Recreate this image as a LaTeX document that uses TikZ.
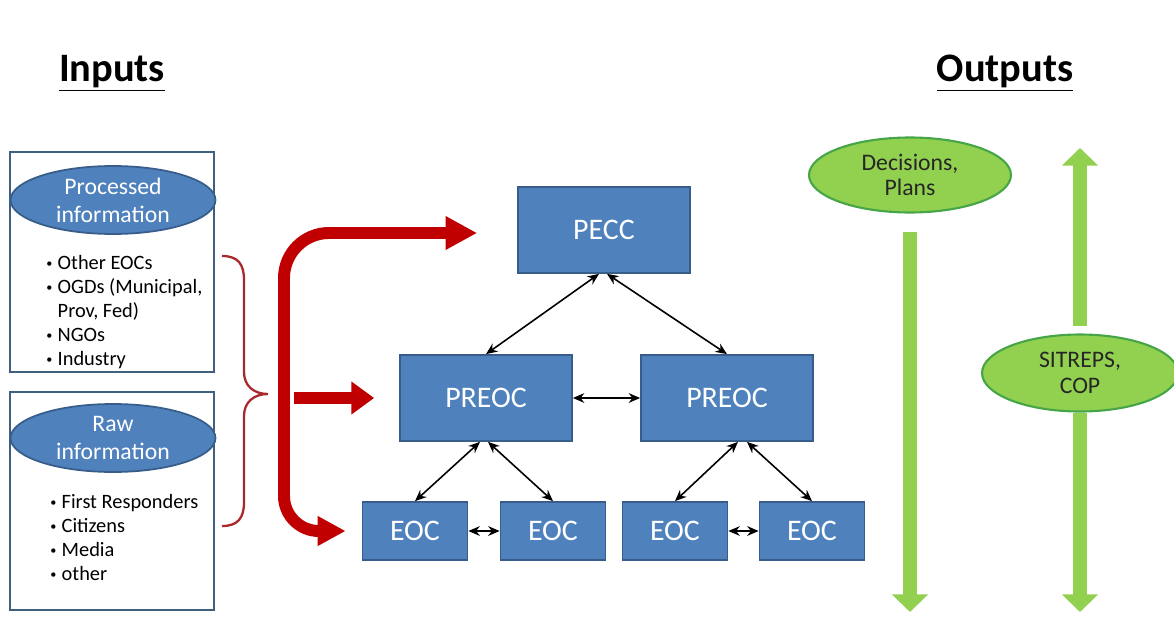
\documentclass[tikz,border=0pt]{standalone}
\usepackage{fontspec}
\setmainfont{Carlito}
\usetikzlibrary{shapes.geometric, arrows.meta, positioning}

\definecolor{boxblue}{HTML}{4F81BD}
\definecolor{boxedge}{HTML}{385D8A}
\definecolor{frameedge}{HTML}{41607F}
\definecolor{flowred}{HTML}{C00000}
\definecolor{bracered}{HTML}{A8282C}
\definecolor{leafgreen}{HTML}{92D050}
\definecolor{leafedge}{HTML}{46A546}
\definecolor{darktext}{HTML}{262626}

\newcommand{\bul}{\raisebox{0.25ex}{\scalebox{0.6}{\textbullet}}\hspace{3pt}}

\begin{document}
\begin{tikzpicture}[x=0.02cm, y=-0.02cm,
  title/.style={font=\fontsize{23}{27}\selectfont\bfseries},
  frame/.style={rectangle, draw=frameedge, line width=1pt, minimum width=4.08cm},
  infoblob/.style={ellipse, draw=boxedge, fill=boxblue, line width=1pt, text=white,
    minimum width=4.1cm, minimum height=1.36cm, inner sep=0pt, align=center,
    font=\fontsize{13.5}{16}\selectfont},
  bullets/.style={anchor=north west, inner sep=0pt, align=left,
    font=\fontsize{11.6}{13.7}\selectfont},
  centre/.style={rectangle, draw=boxedge, fill=boxblue, line width=1pt, text=white,
    font=\fontsize{17}{20}\selectfont},
  bigc/.style={centre, minimum width=3.44cm, minimum height=1.72cm},
  smallc/.style={centre, minimum width=2.1cm, minimum height=1.16cm},
  outblob/.style={ellipse, draw=leafedge, fill=leafgreen, line width=1.2pt, text=darktext,
    inner sep=0pt, align=center, font=\fontsize{13.5}{14.5}\selectfont},
  link/.style={{Stealth[length=6.5pt,width=5.5pt]}-{Stealth[length=6.5pt,width=5.5pt]}, line width=0.9pt},
  redflow/.style={flowred, line width=6.8pt, -{Triangle[length=18pt,width=18pt]}},
  greenflow/.style={leafgreen, line width=7.6pt, -{Triangle[length=10pt,width=20pt]}}]
\useasboundingbox (0,0) rectangle (1174,622);

% headings
\node[title] (inputs) at (112,73) {\underline{Inputs}};
\node[title] (outputs) at (1005,73) {\underline{Outputs}};

% input boxes
\node[frame, minimum height=4.4cm] (procbox) at (112,262) {};
\node[infoblob] (proc) at (113,200) {Processed\\information};
\node[bullets] (proclist) at (46,255) {\bul Other EOCs\\ \bul OGDs (Municipal,\\ \phantom{\bul}Prov, Fed)\\ \bul NGOs\\ \bul Industry};

\node[frame, minimum height=4.36cm] (rawbox) at (112,501) {};
\node[infoblob] (raw) at (113,438) {Raw\\information};
\node[bullets] (rawlist) at (50,494) {\bul First Responders\\ \bul Citizens\\ \bul Media\\ \bul other};

% brace
\draw[bracered, line width=1.3pt] (222,256) .. controls (238,256) and (244,264) .. (244,280)
  -- (244,372) .. controls (244,386) and (254,394) .. (268,394)
  .. controls (254,394) and (244,402) .. (244,416)
  -- (244,502) .. controls (244,518) and (238,526) .. (222,526);

% centres
\node[bigc] (pecc) at (604,230) {PECC};
\node[bigc] (preocl) at (486,398) {PREOC};
\node[bigc] (preocr) at (727,398) {PREOC};
\node[smallc] (eoca) at (415,531) {EOC};
\node[smallc] (eocb) at (553,531) {EOC};
\node[smallc] (eocc) at (675,531) {EOC};
\node[smallc] (eocd) at (812,531) {EOC};

\draw[link] ([xshift=-0.1cm]pecc.south) -- (preocl.north);
\draw[link] ([xshift=0.06cm]pecc.south) -- (preocr.north);
\draw[link] (preocl.east) -- (preocr.west);
\draw[link] ([xshift=-0.12cm]preocl.south) -- (eoca.north);
\draw[link] ([xshift=0.04cm]preocl.south) -- (eocb.north);
\draw[link] ([xshift=0.22cm]preocr.south) -- (eocc.north);
\draw[link] ([xshift=0.4cm]preocr.south) -- (eocd.north);
\draw[link] (eoca.east) -- (eocb.west);
\draw[link] (eocc.east) -- (eocd.west);

% red feed arrows
\coordinate (fork) at (284,398);
\draw[redflow, rounded corners=0.9cm] (fork) |- ([xshift=-0.8cm,yshift=-0.06cm]pecc.west);
\draw[redflow, -{Triangle[length=13pt,width=18pt]}] ([xshift=0.2cm]fork) -- ([xshift=-0.5cm]preocl.west);
\draw[redflow, rounded corners=0.7cm, -{Triangle[length=16pt,width=16pt]}] (fork) |- ([xshift=-0.32cm]eoca.west);

% outputs
\node[outblob, minimum width=4.04cm, minimum height=1.5cm] (decide) at (910,175) {Decisions,\\Plans};
\coordinate (decideend) at (910,612);
\draw[greenflow] ([yshift=-0.36cm]decide.south) -- (decideend);

\node[outblob, minimum width=3.92cm, minimum height=1.54cm] (sitrep) at (1080,373) {SITREPS,\\COP};
\coordinate (sitreptop) at (1080,148);
\coordinate (sitrepend) at (1080,612);
\draw[greenflow] ([yshift=0.14cm]sitrep.north) -- (sitreptop);
\draw[greenflow] (sitrep.south) -- (sitrepend);
\end{tikzpicture}
\end{document}
